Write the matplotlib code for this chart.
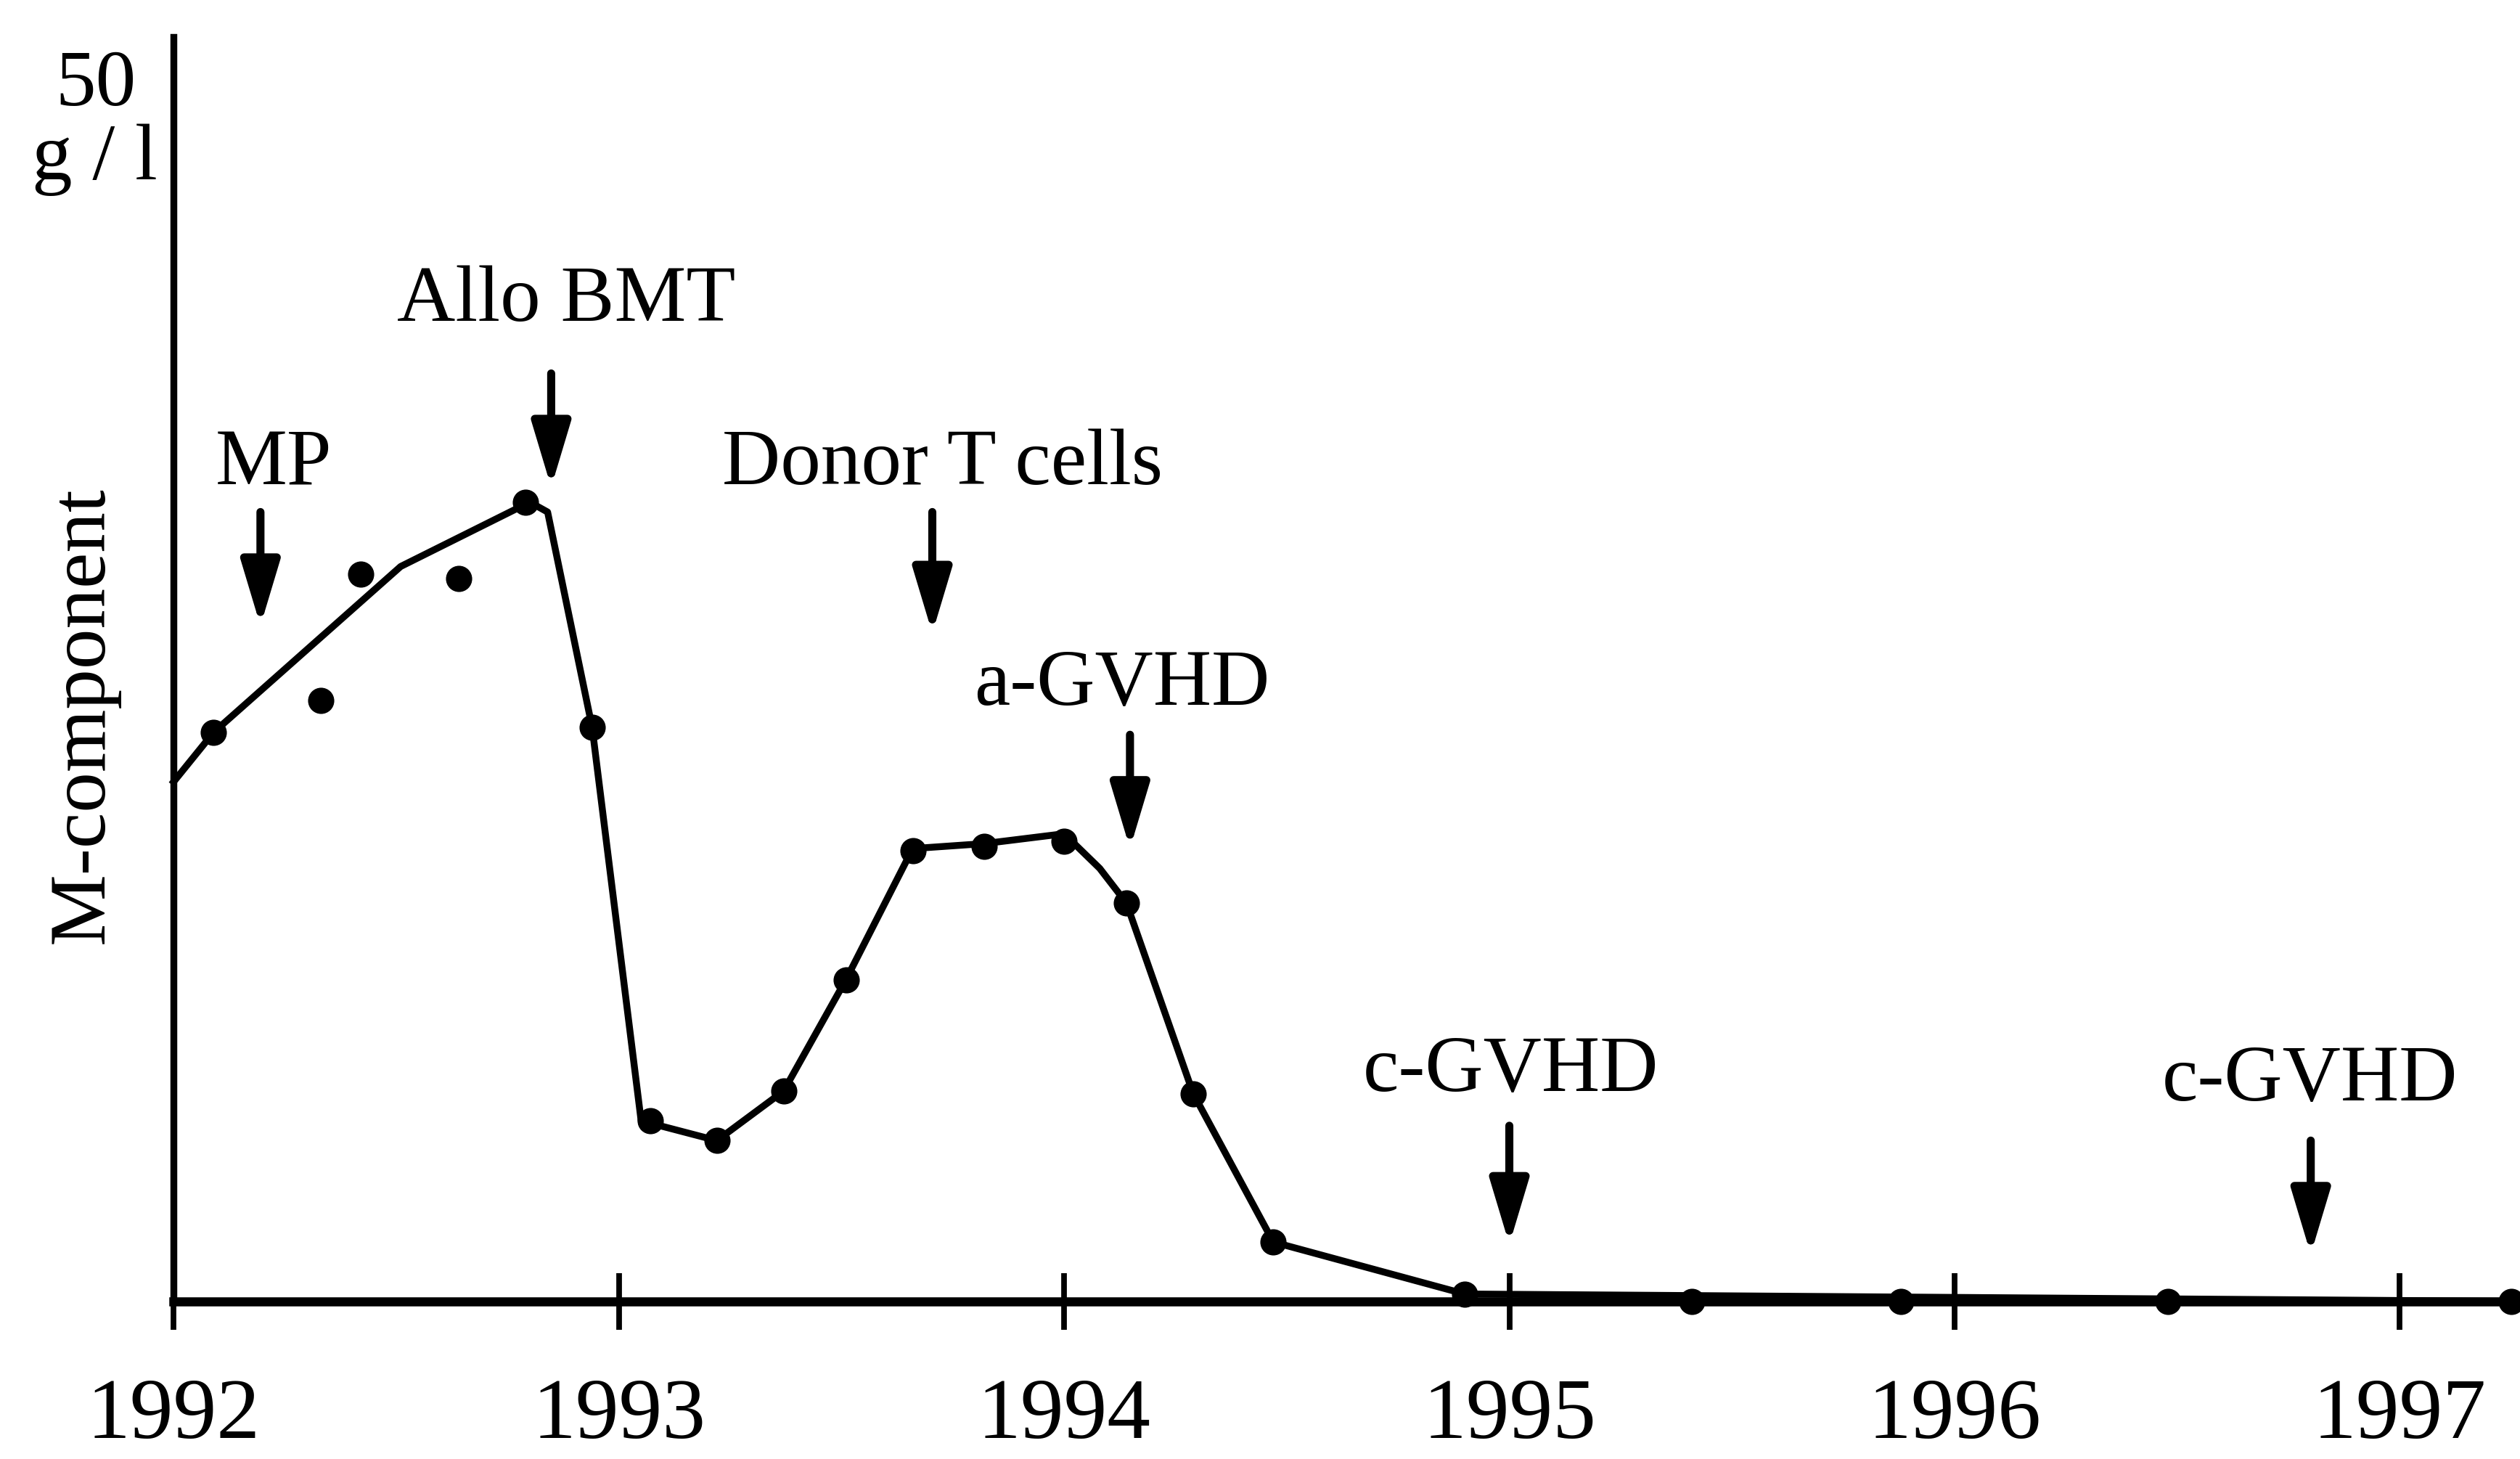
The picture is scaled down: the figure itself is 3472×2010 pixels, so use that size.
import matplotlib
matplotlib.use("Agg")
import matplotlib.pyplot as plt

# measured M-component (g/l) vs time (years)
dot_years = [1992.09, 1992.33, 1992.42, 1992.64, 1992.79, 1992.94, 1993.07, 1993.22,
             1993.37, 1993.51, 1993.66, 1993.82, 1994.00, 1994.14, 1994.29, 1994.47,
             1994.90, 1995.41, 1995.88, 1996.48, 1997.25]
dot_values = [23.0, 24.3, 29.4, 29.2, 32.3, 23.2, 7.3, 6.5,
              8.5, 13.0, 18.2, 18.4, 18.6, 16.1, 8.4, 2.4,
              0.3, 0.0, 0.0, 0.0, 0.0]

# trend line drawn through the points
line_years = [1992.0, 1992.09, 1992.51, 1992.80, 1992.84, 1992.94, 1993.05, 1993.22,
              1993.37, 1993.51, 1993.66, 1993.82, 1994.0, 1994.08, 1994.14, 1994.29,
              1994.47, 1994.90, 1997.3]
line_values = [21.0, 23.0, 29.7, 32.3, 31.9, 23.2, 7.3, 6.5,
               8.5, 13.0, 18.3, 18.5, 18.9, 17.5, 16.1, 8.4,
               2.4, 0.3, 0.0]

# treatment / event markers
event_labels = ["MP", "Allo BMT", "Donor T cells", "a-GVHD", "c-GVHD", "c-GVHD"]
event_years = [1992.195, 1992.848, 1993.704, 1994.148, 1995.0, 1996.80]

year_ticks = [1992, 1993, 1994, 1995, 1996, 1997]

plt.rcParams['font.family'] = ['Liberation Serif', 'DejaVu Serif']

fig = plt.figure(figsize=(17.36, 10.05), dpi=200)
ax = fig.add_axes([0.0689, 0.108, 0.9311, 0.8667])

ax.plot(line_years, line_values, color='k', lw=3.4, solid_joinstyle='round',
        clip_on=False, zorder=3)
ax.plot(dot_years, dot_values, 'o', color='k', ms=12, clip_on=False, zorder=4)

# arrows: (start, tip) in g/l, and text positions
arrow_start = [31.9, 37.5, 31.9, 22.9, 7.1, 6.5]
arrow_tip = [27.3, 32.9, 27.0, 18.3, 2.3, 1.9]
text_x = [1992.224, 1992.881, 1993.726, 1994.130, 1995.003, 1996.798]
text_y = [33.8, 40.4, 33.8, 24.9, 9.3, 8.9]

for lab, x, y0, y1, tx, ty in zip(event_labels, event_years, arrow_start,
                                  arrow_tip, text_x, text_y):
    ax.annotate("", xy=(x, y1), xytext=(x, y0),
                arrowprops=dict(arrowstyle="-|>,head_length=0.9,head_width=0.27",
                                color='k', lw=4, mutation_scale=30,
                                shrinkA=0, shrinkB=0))
    ax.text(tx, ty, lab, ha='center', va='center', fontsize=40)

ax.set_xlim(1992, 1997.27)
ax.set_ylim(0, 51.1)

ax.spines['top'].set_visible(False)
ax.spines['right'].set_visible(False)
ax.spines['left'].set_linewidth(3.4)
ax.spines['bottom'].set_linewidth(4.5)

ax.set_xticks(year_ticks)
ax.set_xticklabels([str(y) for y in year_ticks])
ax.set_yticks([])
ax.tick_params(axis='x', direction='inout', length=28, width=2.8, pad=24,
               labelsize=43)

fig.text(52 / 1568, 1 - 445 / 908, "M-component", rotation=90, ha='center',
         va='center', fontsize=40)
fig.text(0.038, 0.9279, "50", ha='center', va='baseline', fontsize=40)
fig.text(0.0377, 0.8771, "g / l", ha='center', va='baseline', fontsize=40)

fig.savefig("out.png", dpi=200)
